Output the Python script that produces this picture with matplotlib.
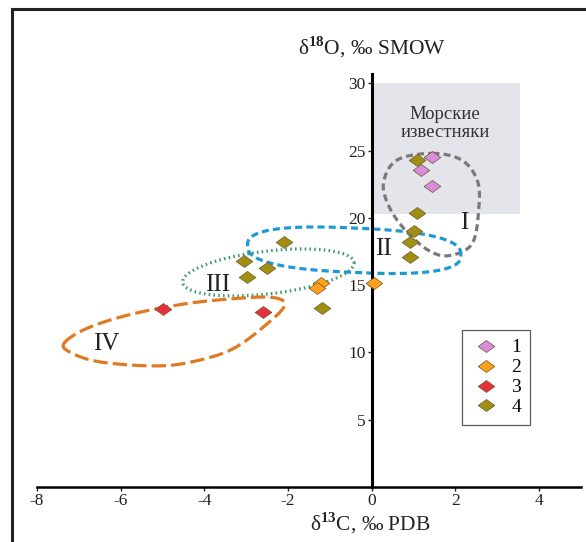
import numpy as np
import matplotlib.pyplot as plt
from matplotlib.patches import Rectangle
from matplotlib.lines import Line2D

plt.rcParams['font.family'] = ['Liberation Serif', 'DejaVu Serif']
plt.rcParams['mathtext.fontset'] = 'custom'
plt.rcParams['mathtext.rm'] = 'Liberation Serif'
plt.rcParams['mathtext.bf'] = 'Liberation Serif:bold'

# data (d13C, d18O)
x1 = [1.45, 1.17, 1.43]
y1 = [24.5, 23.6, 22.4]
x2 = [0.05, -1.22, -1.3]
y2 = [15.2, 15.2, 14.8]
x3 = [-5.0, -2.6]
y3 = [13.2, 13.0]
x4 = [1.09, 1.09, 1.01, 0.91, 0.91, -2.09, -3.06, -2.51, -2.97, -1.2]
y4 = [24.3, 20.4, 19.0, 18.2, 17.1, 18.2, 16.8, 16.3, 15.6, 13.3]

labels = ['1', '2', '3', '4']
colors = ['#d88ddc', '#ffa01c', '#e8303c', '#a18f13']

# outline of the groups
zone_I = [(1.45, 24.8), (2.15, 24.3), (2.52, 22.8), (2.56, 20.8), (2.4, 18.1),
          (1.85, 17.2), (1.35, 17.6), (0.8, 19.1), (0.42, 20.8), (0.28, 22.6),
          (0.6, 24.3)]
zone_IV = [(-7.35, 10.7), (-6.8, 11.8), (-5.8, 12.8), (-4.5, 13.6), (-3.3, 14.0),
           (-2.4, 14.1), (-2.08, 13.6), (-2.4, 12.4), (-3.3, 10.3), (-4.3, 9.3),
           (-5.2, 9.0), (-6.5, 9.3), (-7.2, 10.0)]
marine_box = (0, 20.3, 3.55, 9.7)


def closed_curve(pts, n=30):
    # catmull-rom through the outline points
    p = np.array(pts)
    k = len(p)
    out = []
    for i in range(k):
        p0, p1, p2, p3 = p[i - 1], p[i], p[(i + 1) % k], p[(i + 2) % k]
        t = np.linspace(0, 1, n, endpoint=False)[:, None]
        c = 0.5 * ((2 * p1) + (-p0 + p2) * t + (2 * p0 - 5 * p1 + 4 * p2 - p3) * t ** 2
                   + (-p0 + 3 * p1 - 3 * p2 + p3) * t ** 3)
        out.append(c)
    out = np.vstack(out)
    return np.vstack([out, out[:1]])


def oval(cx, cy, a, b, s, e=2.0):
    t = np.linspace(0, 2 * np.pi, 300)
    c, sn = np.cos(t), np.sin(t)
    cc = np.sign(c) * np.abs(c) ** (2 / e)
    ss = np.sign(sn) * np.abs(sn) ** (2 / e)
    return cx + a * cc, cy + b * ss + s * cc


fig = plt.figure(figsize=(5.86, 5.42), dpi=100)
ax = fig.add_axes([37 / 586, 1 - 487 / 542, 544 / 586, 413 / 542])
ax.set_xlim(-8, 5)
ax.set_ylim(0, 30.7)

ax.add_patch(Rectangle(marine_box[:2], marine_box[2], marine_box[3],
                       facecolor='#e3e5ea', edgecolor='none', zorder=0))
ax.text(1.75, 27.0, 'Морские\nизвестняки', ha='center', va='center',
        fontsize=13.5, color='#333333', linespacing=1.1)

c = closed_curve(zone_I)
ax.plot(c[:, 0], c[:, 1], color='#7a7a7a', lw=2.3, dashes=(2.2, 1.3), zorder=2)
bx, by = oval(-0.42, 17.6, 2.55, 1.65, -0.35, 2.6)
ax.plot(bx, by, color='#1b9ad6', lw=2.3, dashes=(2.2, 1.3), zorder=2)
gx, gy = oval(-2.47, 15.95, 2.05, 1.6, 0.7)
ax.plot(gx, gy, color='#3d9a78', lw=2.3, dashes=(0.5, 1.0), zorder=2)
c = closed_curve(zone_IV)
ax.plot(c[:, 0], c[:, 1], color='#e07a22', lw=2.3, dashes=(4.5, 1.6), zorder=2)

ax.text(2.2, 19.6, 'I', fontsize=18, ha='center', va='center', color='#222222')
ax.text(0.28, 17.7, 'II', fontsize=18, ha='center', va='center', color='#222222')
ax.text(-3.68, 15.0, 'III', fontsize=18, ha='center', va='center', color='#222222')
ax.text(-6.35, 10.6, 'IV', fontsize=18, ha='center', va='center', color='#222222')

diamond = [(-1, 0), (0, 0.72), (1, 0), (0, -0.72), (-1, 0)]
for xs, ys, col, lab in zip([x1, x2, x3, x4], [y1, y2, y3, y4], colors, labels):
    ax.plot(xs, ys, ls='none', marker=diamond, markersize=12, color=col,
            markeredgecolor='#6b5a2a', markeredgewidth=0.5, label=lab, zorder=4)

leg = ax.legend(loc='upper left', bbox_to_anchor=(0.781, 0.38), fontsize=14,
                frameon=True, fancybox=False, edgecolor='#333333', handletextpad=0.5,
                borderpad=0.45, labelspacing=0.12, handlelength=1.6, borderaxespad=0)
leg.get_frame().set_linewidth(0.9)

for s in ['top', 'right']:
    ax.spines[s].set_visible(False)
ax.spines['left'].set_position(('data', 0))
ax.spines['left'].set_linewidth(2.2)
ax.spines['bottom'].set_linewidth(1.8)
ax.set_xticks([-8, -6, -4, -2, 0, 2, 4])
ax.set_xticklabels(['-8', '-6', '-4', '-2', '0', '2', '4'])
ax.set_yticks([5, 10, 15, 20, 25, 30])
ax.tick_params(axis='both', direction='out', length=3, width=1, labelsize=12.5,
               colors='#222222', pad=1.5)
ax.patch.set_alpha(0)

fig.text(372 / 586, 1 - 47 / 542, r'δ$^{\mathbf{18}}$O, ‰ SMOW', ha='center', va='center',
         fontsize=15.5, color='#222222')
fig.text(370 / 586, 1 - 523 / 542, r'δ$^{\mathbf{13}}$C, ‰ PDB', ha='center', va='center',
         fontsize=15.5, color='#222222')

# outer frame
fig.add_artist(Line2D([12 / 586, 1], [1 - 9 / 542, 1 - 9 / 542], color='#222222', lw=2.2))
fig.add_artist(Line2D([12 / 586, 12 / 586], [0, 1 - 9 / 542], color='#222222', lw=2.2))

fig.savefig('out.png', dpi=100)
